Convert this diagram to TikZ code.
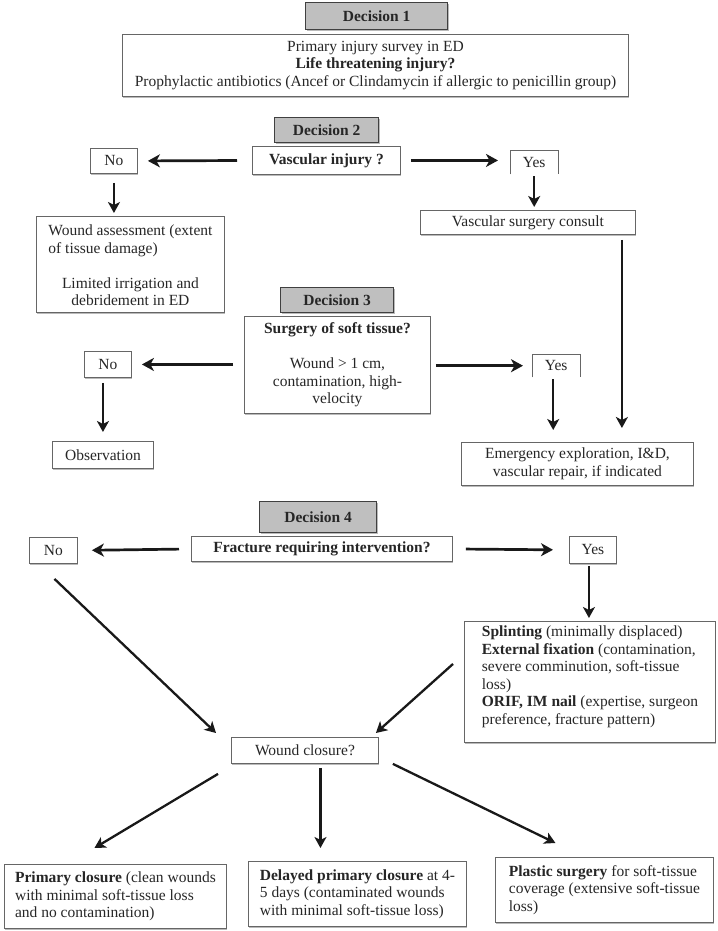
\documentclass[tikz,border=0pt]{standalone}
\usepackage{fontspec}
\setmainfont{Liberation Serif}
\usetikzlibrary{arrows.meta,calc,shadows}
\begin{document}
\begin{tikzpicture}[x=1pt,y=-1pt,
  every node/.style={font=\fontsize{15.5}{17.5}\selectfont, text=black!85},
  shad/.style={drop shadow={shadow xshift=1pt,shadow yshift=-1.2pt,fill=black!45,opacity=0.6}},
  box/.style={draw=black!60, line width=0.9pt, fill=white, anchor=north west, inner sep=0pt, shad},
  dec/.style={draw=black!75, line width=1.3pt, fill=black!25, anchor=north west, inner sep=0pt, font=\fontsize{15.5}{17.5}\selectfont\bfseries, shad},
  bold/.style={font=\fontsize{15.5}{17.5}\selectfont\bfseries},
  openbox/.style={anchor=north west, inner sep=0pt},
  side/.style={draw=black!60, line width=0.9pt},
  arr/.style={-{Stealth[length=12pt,width=13pt,inset=3.5pt]}, line width=2.7pt, black!90},
  arrv/.style={-{Stealth[length=11pt,width=12pt,inset=3pt]}, line width=2.3pt, black!90},
]
\useasboundingbox[fill=white] (0,0) rectangle (717,931);

% Decision 1
\node[dec, minimum width=142, minimum height=27] (d1) at (305,2) {Decision 1};
\node[box, minimum width=506, minimum height=62, align=center] (b1) at (122,34)
  {Primary injury survey in ED\\\textbf{Life threatening injury?}\\Prophylactic antibiotics (Ancef or Clindamycin if allergic to penicillin group)};

% Decision 2
\node[dec, minimum width=104, minimum height=25] (d2) at (274,117) {Decision 2};
\node[box, bold, minimum width=148, minimum height=28] (vi) at (252,146) {Vascular injury ?};
\node[box, minimum width=47, minimum height=25] (no2) at (90,148) {No};
\node[openbox, minimum width=48, minimum height=24] (yes2) at (510,150) {Yes};
\draw[side] (yes2.south west) -- (yes2.north west) -- (yes2.north east) -- (yes2.south east);
\node[box, minimum width=188, minimum height=96, align=center] (wa) at (36,216)
  {\begin{tabular}[b]{@{}l@{}}Wound assessment (extent\\of tissue damage)\end{tabular}\\[17.5pt]Limited irrigation and\\debridement in ED};
\node[box, minimum width=215, minimum height=24] (vsc) at (420,210) {Vascular surgery consult};

% Decision 3
\node[dec, minimum width=113, minimum height=25] (d3) at (280,287) {Decision 3};
\node[box, minimum width=186, minimum height=97, align=center] (sst) at (244,316)
  {\textbf{Surgery of soft tissue?}\\[17.5pt]Wound > 1 cm,\\contamination, high-\\velocity};
\node[box, minimum width=47, minimum height=26] (no3) at (84,351) {No};
\node[openbox, minimum width=48, minimum height=23] (yes3) at (532,354) {Yes};
\draw[side] (yes3.south west) -- (yes3.north west) -- (yes3.north east) -- (yes3.south east);
\node[box, minimum width=101, minimum height=27] (obs) at (52,441) {Observation};
\node[box, minimum width=232, minimum height=43, align=center] (em) at (461,442)
  {Emergency exploration, I\&D,\\vascular repair, if indicated};

% Decision 4
\node[dec, minimum width=117, minimum height=31] (d4) at (259,501) {Decision 4};
\node[box, bold, minimum width=261, minimum height=25] (frac) at (191,536) {Fracture requiring intervention?};
\node[box, minimum width=48, minimum height=26] (no4) at (29,537) {No};
\node[box, minimum width=47, minimum height=27] (yes4) at (569,536) {Yes};
\node[box, minimum width=251, minimum height=121, align=left] (sp) at (464,621)
  {\textbf{Splinting} (minimally displaced)\\\textbf{External fixation} (contamination,\\severe comminution, soft-tissue\\loss)\\\textbf{ORIF, IM nail} (expertise, surgeon\\preference, fracture pattern)\rule[-14pt]{0pt}{0pt}};
\node[box, minimum width=147, minimum height=26] (wc) at (231,737) {Wound closure?};
\node[box, minimum width=222, minimum height=64, align=left] (pc) at (4,864)
  {\textbf{Primary closure} (clean wounds\\with minimal soft-tissue loss\\and no contamination)};
\node[box, minimum width=218, minimum height=65, align=left] (dl) at (248,861)
  {\textbf{Delayed primary closure} at 4-\\5 days (contaminated wounds\\with minimal soft-tissue loss)};
\node[box, minimum width=218, minimum height=65, align=left] (ps) at (495,857)
  {\textbf{Plastic surgery} for soft-tissue\\coverage (extensive soft-tissue\\loss)};

% connectors, decision 2
\draw[arr, shorten <=15pt, shorten >=10pt] (vi.west) -- (no2.east);
\draw[arr, shorten <=10pt, shorten >=12pt] (vi.east) -- (yes2.west |- vi.east);
\draw[arrv, shorten <=9pt, shorten >=3pt] (no2.south) -- (no2.south |- wa.north);
\draw[arrv, shorten <=2pt, shorten >=3pt] (yes2.south) -- (yes2.south |- vsc.north);
\draw[arrv, shorten <=5pt, shorten >=14pt] ($(vsc.south east)+(-14,0)$) coordinate (lt) -- (lt |- em.north);

% connectors, decision 3
\draw[arr, shorten <=11pt, shorten >=10pt] (sst.west |- no3.east) -- (no3.east);
\draw[arr, shorten <=5pt, shorten >=9pt] (sst.east |- yes3.west) -- (yes3.west);
\draw[arrv, shorten <=5pt, shorten >=9pt] (obs.north |- no3.south) -- (obs.north);
\draw[arrv, shorten <=2pt, shorten >=12pt] ($(yes3.south)+(-3,0)$) coordinate (y3) -- (y3 |- em.north);

% connectors, decision 4
\draw[arr, shorten <=12pt, shorten >=14pt] (frac.west) -- (no4.east);
\draw[arr, shorten <=13pt, shorten >=16pt] (frac.east) -- (yes4.west);
\draw[arrv, shorten <=2pt, shorten >=3pt] ($(yes4.south)+(-4,0)$) coordinate (y4) -- (y4 |- sp.north);
\draw[arrv] ($(no4.south)+(1,15)$) -- ($(wc.north west)+(-15,-4)$);
\draw[arrv] ($(sp.west)+(-11,-18)$) -- ($(wc.north east)+(-3,-4)$);

% connectors, wound closure
\draw[arrv] ($(wc.south west)+(-13,10)$) -- ($(pc.north)+(-21,-16)$);
\draw[arrv, shorten >=13pt] ($(wc.south)+(15.5,4)$) coordinate (wm) -- (wm |- dl.north);
\draw[arrv] ($(wc.south east)+(14,0)$) -- ($(ps.north)+(-49,-14)$);
\end{tikzpicture}
\end{document}
